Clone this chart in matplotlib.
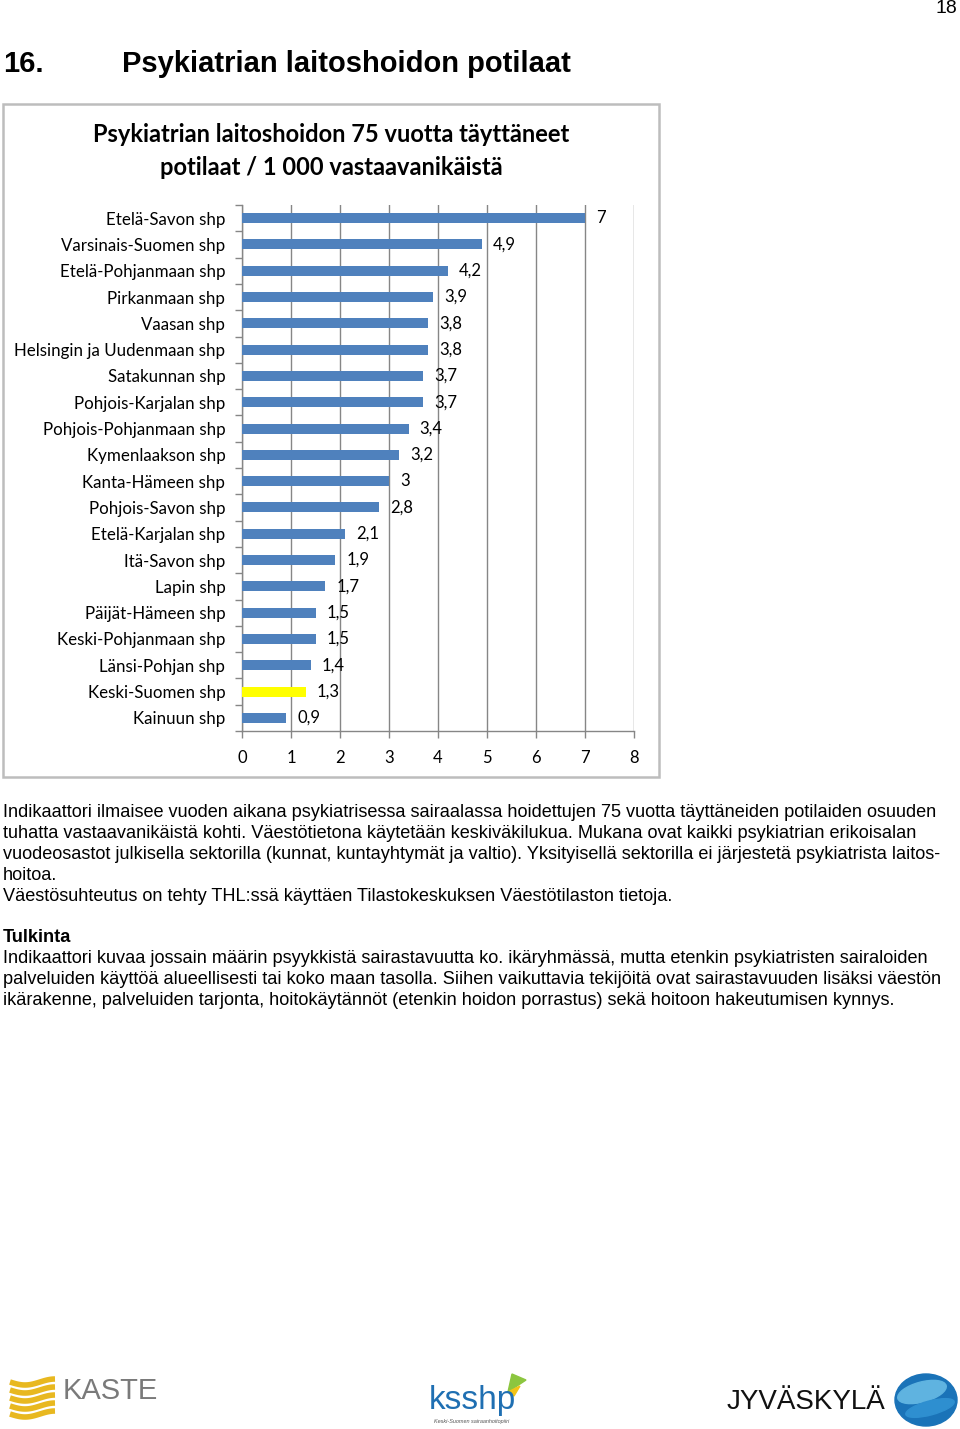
import numpy as np
import matplotlib.pyplot as plt
from matplotlib.patches import Rectangle, Ellipse, Polygon

# Data
regions = ['Etelä-Savon shp', 'Varsinais-Suomen shp', 'Etelä-Pohjanmaan shp',
           'Pirkanmaan shp', 'Vaasan shp', 'Helsingin ja Uudenmaan shp',
           'Satakunnan shp', 'Pohjois-Karjalan shp', 'Pohjois-Pohjanmaan shp',
           'Kymenlaakson shp', 'Kanta-Hämeen shp', 'Pohjois-Savon shp',
           'Etelä-Karjalan shp', 'Itä-Savon shp', 'Lapin shp', 'Päijät-Hämeen shp',
           'Keski-Pohjanmaan shp', 'Länsi-Pohjan shp', 'Keski-Suomen shp',
           'Kainuun shp']
values = [7, 4.9, 4.2, 3.9, 3.8, 3.8, 3.7, 3.7, 3.4, 3.2, 3, 2.8,
          2.1, 1.9, 1.7, 1.5, 1.5, 1.4, 1.3, 0.9]
highlight = 'Keski-Suomen shp'
x_ticks = [0, 1, 2, 3, 4, 5, 6, 7, 8]

chart_title = 'Psykiatrian laitoshoidon 75 vuotta täyttäneet\npotilaat / 1 000 vastaavanikäistä'

body_lines = [
    'Indikaattori ilmaisee vuoden aikana psykiatrisessa sairaalassa hoidettujen 75 vuotta täyttäneiden potilaiden osuuden',
    'tuhatta vastaavanikäistä kohti. Väestötietona käytetään keskiväkilukua. Mukana ovat kaikki psykiatrian erikoisalan',
    'vuodeosastot julkisella sektorilla (kunnat, kuntayhtymät ja valtio). Yksityisellä sektorilla ei järjestetä psykiatrista laitos-',
    'hoitoa.',
    'Väestösuhteutus on tehty THL:ssä käyttäen Tilastokeskuksen Väestötilaston tietoja.',
]
tulkinta_lines = [
    'Indikaattori kuvaa jossain määrin psyykkistä sairastavuutta ko. ikäryhmässä, mutta etenkin psykiatristen sairaloiden',
    'palveluiden käyttöä alueellisesti tai koko maan tasolla. Siihen vaikuttavia tekijöitä ovat sairastavuuden lisäksi väestön',
    'ikärakenne, palveluiden tarjonta, hoitokäytännöt (etenkin hoidon porrastus) sekä hoitoon hakeutumisen kynnys.',
]

W, H = 960, 1429
fig = plt.figure(figsize=(W / 100, H / 100), dpi=100)

# page overlay in pixel coordinates
page = fig.add_axes([0, 0, 1, 1])
page.set_xlim(0, W)
page.set_ylim(H, 0)
page.axis('off')

arial = 'Liberation Sans'
calibri = 'Lato'

page.text(957, 8, '18', ha='right', va='center', fontsize=14, family=arial)
page.text(3, 64, '16.', ha='left', va='center', fontsize=21, fontweight='bold', family=arial)
page.text(122, 64, 'Psykiatrian laitoshoidon potilaat', ha='left', va='center',
          fontsize=21, fontweight='bold', family=arial)

# chart frame
page.add_patch(Rectangle((3, 104), 656, 673, fill=False, ec='#bdbdbd', lw=1.8))
page.text(331, 151, chart_title, ha='center', va='center', fontsize=17,
          fontweight='bold', family=calibri, linespacing=1.5)

# body text
y = 812
for line in body_lines:
    page.text(3, y, line, ha='left', va='center', fontsize=13.1, family=arial)
    y += 21
page.text(3, 937, 'Tulkinta', ha='left', va='center', fontsize=13.1,
          fontweight='bold', family=arial)
y = 958
for line in tulkinta_lines:
    page.text(3, y, line, ha='left', va='center', fontsize=13.1, family=arial)
    y += 21

# logos (rough)
for i in range(5):
    xs = np.linspace(10, 55, 30)
    ys = 1382 + i * 8 + 3 * np.sin((xs - 10) / 45 * np.pi * 1.5)
    page.plot(xs, ys, color='#e8b820', lw=4, solid_capstyle='butt')
page.text(63, 1391, 'KASTE', ha='left', va='center', fontsize=21, color='#7a7a7a',
          family=arial)
page.text(472, 1400, 'ksshp', ha='center', va='center', fontsize=24, color='#1f6fb2',
          family=arial)
page.add_patch(Polygon([[508, 1392], [512, 1374], [526, 1380]], color='#8cc63f'))
page.add_patch(Polygon([[508, 1392], [520, 1386], [514, 1396]], color='#f3c316'))
page.text(472, 1421, 'Keski-Suomen sairaanhoitopiiri', ha='center', va='center',
          fontsize=4, style='italic', color='#555555', family=arial)
page.text(727, 1402, 'JYVÄSKYLÄ', ha='left', va='center', fontsize=20, color='#111111',
          family=arial)
page.add_patch(Ellipse((926, 1400), 62, 52, color='#1a73b8'))
page.add_patch(Ellipse((922, 1392), 50, 20, angle=-15, color='#5fb3e0'))
page.add_patch(Ellipse((930, 1408), 50, 14, angle=-15, color='#2e8fd0'))

# bar chart axes
left, right, top, bottom = 242, 634, 205, 731
ax = fig.add_axes([left / W, 1 - bottom / H, (right - left) / W, (bottom - top) / H])
ypos = np.arange(len(regions))
colors = ['#ffff00' if r == highlight else '#4f81bd' for r in regions]
ax.barh(ypos, values, height=0.38, color=colors, zorder=3)
for yp, v in zip(ypos, values):
    ax.annotate(f'{v:g}'.replace('.', ','), (v, yp), xytext=(8, 0),
                textcoords='offset points', ha='left', va='center',
                fontsize=12, family=calibri, zorder=4)

ax.set_xlim(0, 8)
ax.set_ylim(len(regions) - 0.5, -0.5)
ax.set_xticks(x_ticks)
ax.set_xticklabels([str(t) for t in x_ticks], fontsize=12, family=calibri)
ax.set_yticks(ypos)
ax.set_yticklabels(regions, fontsize=12.2, family=calibri)
ax.set_yticks(np.arange(-0.5, len(regions)), minor=True)
ax.tick_params(axis='y', which='major', length=0, pad=12)
ax.tick_params(axis='y', which='minor', length=5, color='#868686', width=1)
ax.tick_params(axis='x', length=5, color='#868686', width=1, pad=9)
ax.grid(axis='x', color='#868686', lw=1, zorder=0)
for s in ['top', 'right']:
    ax.spines[s].set_visible(False)
for s in ['left', 'bottom']:
    ax.spines[s].set_color('#868686')
    ax.spines[s].set_linewidth(1)

plt.savefig('out.png', dpi=100)
